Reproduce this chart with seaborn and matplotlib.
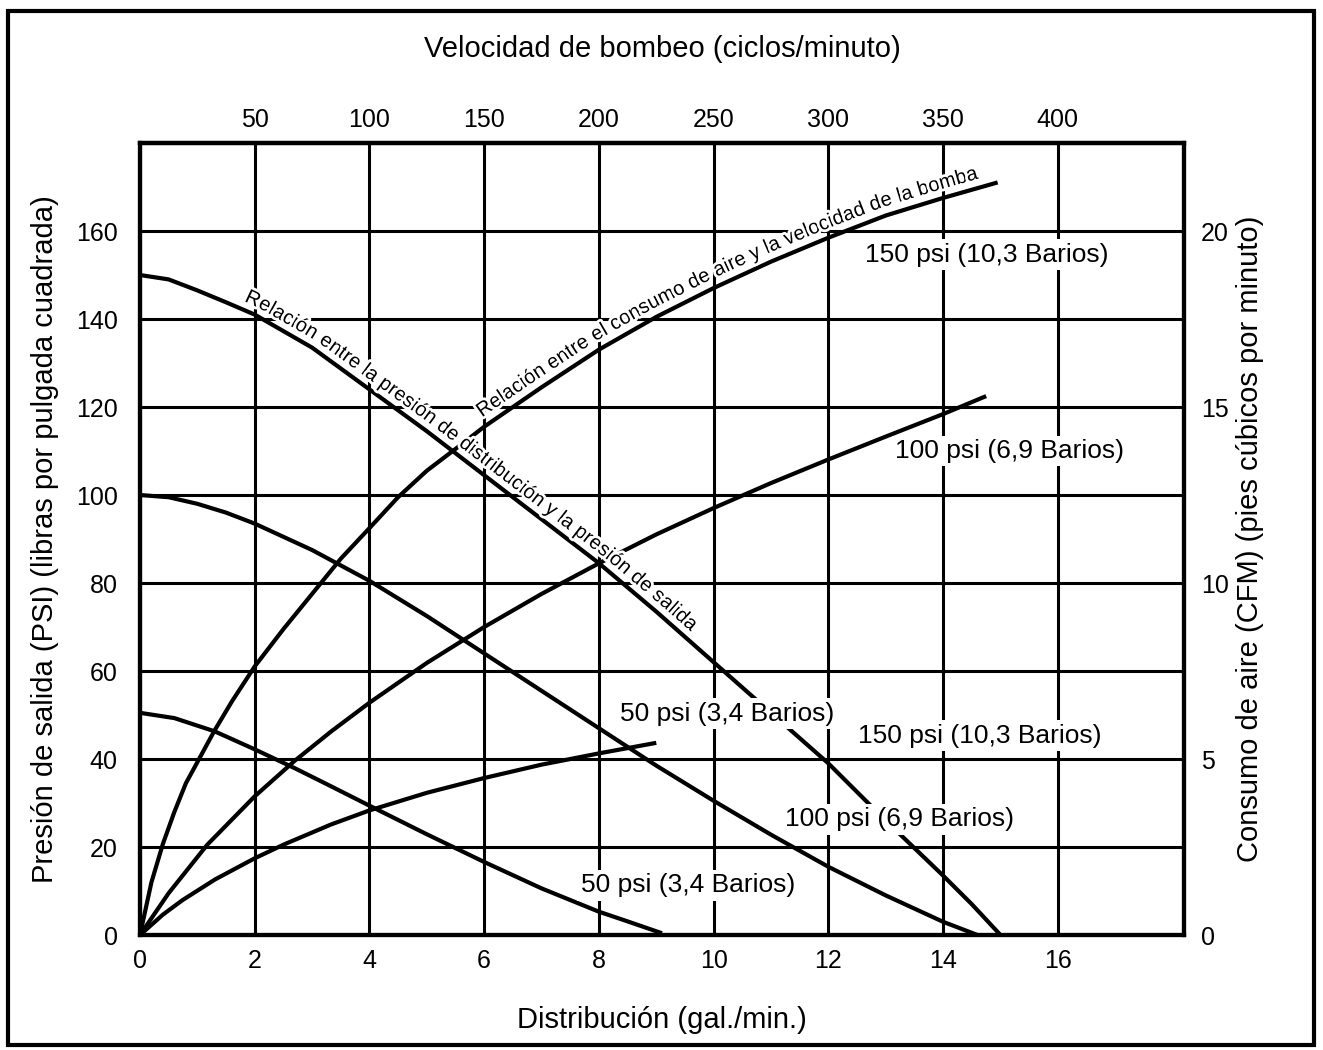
import numpy as np
import pandas as pd
import matplotlib
matplotlib.use("Agg")
import matplotlib.pyplot as plt
import matplotlib.patheffects as pe
from matplotlib.patches import Rectangle
from matplotlib.font_manager import FontProperties
import seaborn as sns

# ---------------- data ----------------
# outlet pressure (psi) vs. flow (gal/min) for three air inlet pressures
flow_p150 = [0, 0.5, 1, 1.5, 2, 3, 4, 5, 6, 7, 8, 9, 10, 11, 12, 13, 14, 14.5, 15.0]
psi_p150 = [150, 149, 146.5, 143.8, 141, 133.5, 124, 114.5, 104.5, 94.5, 84.5, 73.5, 62,
            50.5, 39, 26, 13.5, 7, 0]

flow_p100 = [0, 0.5, 1, 1.5, 2, 3, 4, 5, 6, 7, 8, 9, 10, 11, 12, 13, 14, 14.6]
psi_p100 = [100, 99.5, 98, 96, 93.5, 87.5, 80.5, 72.5, 64, 55.5, 47, 38.5, 30.5, 22.8,
            15.5, 9, 3, 0]

flow_p50 = [0, 0.6, 1.3, 2, 2.7, 3.3, 4, 5, 6, 7, 8, 8.5, 9.1]
psi_p50 = [50.5, 49.3, 46.3, 42.2, 37.9, 34, 29.4, 22.9, 16.6, 10.6, 5.3, 3.1, 0.4]

# air consumption (CFM) vs. flow (gal/min)
flow_a150 = [0, 0.2, 0.4, 0.6, 0.8, 1.05, 1.3, 1.6, 2, 2.5, 3, 3.5, 4, 4.5, 5, 5.5, 6,
             7, 8, 9, 10, 11, 12, 13, 14, 14.95]
cfm_a150 = [0, 1.5, 2.59, 3.5, 4.31, 5.06, 5.81, 6.63, 7.63, 8.69, 9.69, 10.69, 11.56,
            12.44, 13.19, 13.81, 14.44, 15.56, 16.63, 17.56, 18.38, 19.13, 19.81, 20.44,
            20.94, 21.38]

flow_a100 = [0, 0.5, 1.17, 2, 2.69, 3.33, 4, 5, 6, 7, 8, 9, 10, 11, 12, 13, 14, 14.75]
cfm_a100 = [0, 1.19, 2.56, 3.94, 4.94, 5.78, 6.6, 7.73, 8.75, 9.69, 10.56, 11.38, 12.13,
            12.84, 13.51, 14.16, 14.8, 15.31]

flow_a50 = [0, 0.4, 0.74, 1.31, 2, 2.52, 3.33, 4, 5, 6, 7, 8, 9]
cfm_a50 = [0, 0.58, 0.99, 1.58, 2.18, 2.58, 3.14, 3.54, 4.04, 4.46, 4.84, 5.16, 5.46]

flow_ticks = [0, 2, 4, 6, 8, 10, 12, 14, 16]
psi_ticks = [0, 20, 40, 60, 80, 100, 120, 140, 160]
cfm_ticks = [0, 5, 10, 15, 20]
speed_ticks = [50, 100, 150, 200, 250, 300, 350, 400]

label_150 = "150 psi (10,3 Barios)"
label_100 = "100 psi (6,9 Barios)"
label_50 = "50 psi (3,4 Barios)"
txt_pressure = "Relación entre la presión de distribución y la presión de salida"
txt_air = "Relación entre el consumo de aire y la velocidad de la bomba"

# ---------------- style ----------------
sns.set_theme(style="white")
plt.rcParams["font.family"] = ["Liberation Sans", "DejaVu Sans"]
plt.rcParams["axes.edgecolor"] = "black"
plt.rcParams["text.color"] = "black"
plt.rcParams["xtick.color"] = "black"
plt.rcParams["ytick.color"] = "black"
plt.rcParams["axes.labelcolor"] = "black"

fig = plt.figure(figsize=(13.23, 10.5), dpi=100)
ax = fig.add_axes([0.1058, 0.1095, 0.7892, 0.7543])
ax2 = ax.twinx()

LW = 3.0
for xs, ys in [(flow_p150, psi_p150), (flow_p100, psi_p100), (flow_p50, psi_p50)]:
    sns.lineplot(x=xs, y=ys, ax=ax, color="black", lw=LW, estimator=None, sort=False,
                 zorder=3, solid_joinstyle="round", solid_capstyle="butt")
for xs, ys in [(flow_a150, cfm_a150), (flow_a100, cfm_a100), (flow_a50, cfm_a50)]:
    sns.lineplot(x=xs, y=ys, ax=ax2, color="black", lw=LW, estimator=None, sort=False,
                 zorder=3, solid_joinstyle="round", solid_capstyle="butt")

ax.set_xlim(0, 18.2)
ax.set_ylim(0, 180)
ax2.set_ylim(0, 22.5)
ax.set_xticks(flow_ticks)
ax.set_yticks(psi_ticks)
ax2.set_yticks(cfm_ticks)
ax.grid(True, color="black", lw=2.2)
ax2.grid(False)
ax.set_axisbelow(True)
for a in (ax, ax2):
    for sp in a.spines.values():
        sp.set_linewidth(3)
        sp.set_color("black")

TS = 18
ax.tick_params(axis="y", length=0, pad=16, labelsize=TS)
ax.tick_params(axis="x", length=0, pad=10, labelsize=TS)
ax2.tick_params(axis="y", length=0, pad=12, labelsize=TS)

secax = ax.secondary_xaxis("top", functions=(lambda x: x * 25.0, lambda v: v / 25.0))
secax.set_xticks(speed_ticks)
secax.tick_params(length=0, pad=8, labelsize=TS)
secax.spines["top"].set_linewidth(3)

LS = 21
ax.set_xlabel("Distribución (gal./min.)", fontsize=LS)
ax.set_ylabel("Presión de salida (PSI) (libras por pulgada cuadrada)", fontsize=LS)
ax2.set_ylabel("Consumo de aire (CFM) (pies cúbicos por minuto)", fontsize=LS)
secax.set_xlabel("Velocidad de bombeo (ciclos/minuto)", fontsize=LS)

ax.xaxis.set_label_coords(0.5, -0.107, transform=ax.transAxes)
ax.yaxis.set_label_coords(-0.091, 0.5, transform=ax.transAxes)
ax2.yaxis.set_label_coords(1.063, 0.5, transform=ax.transAxes)
secax.xaxis.set_label_coords(0.5, 1.119, transform=ax.transAxes)
for lab in (ax.xaxis.label, ax.yaxis.label, ax2.yaxis.label, secax.xaxis.label):
    lab.set_verticalalignment("center")
    lab.set_horizontalalignment("center")

# ---------------- curve labels with white boxes ----------------
box = dict(facecolor="white", edgecolor="none", pad=2.5)
LF = 19
curve_labels = [
    (label_150, 14.76, 154.6),
    (label_100, 15.16, 110.0),
    (label_50, 10.23, 50.3),
    (label_150, 14.63, 45.3),
    (label_100, 13.24, 26.3),
    (label_50, 9.55, 11.3),
]
for s, x, y in curve_labels:
    ax2.text(x, y, s, transform=ax.transData, ha="center", va="center",
             fontsize=LF, bbox=box, zorder=10)

# ---------------- text following a curve ----------------
def text_along(axis, xs, ys, text, x_start, size, offset):
    fig.canvas.draw()
    r = fig.canvas.get_renderer()
    fp = FontProperties(family=["Liberation Sans", "DejaVu Sans"], size=size)

    def tw(t):
        return r.get_text_width_height_descent(t, fp, ismath=False)[0]

    base = tw("nn")
    adv = [tw("n" + ch + "n") - base for ch in text]
    pts = axis.transData.transform(np.column_stack([xs, ys]))
    seg = np.hypot(np.diff(pts[:, 0]), np.diff(pts[:, 1]))
    s = np.concatenate([[0.0], np.cumsum(seg)])
    s0 = np.interp(x_start, xs, s)

    def pos(sv):
        return np.array([np.interp(sv, s, pts[:, 0]), np.interp(sv, s, pts[:, 1])])

    inv = axis.transData.inverted()
    cur = s0
    for ch, w in zip(text, adv):
        sc = cur + w / 2.0
        cur += w
        if ch == " ":
            continue
        p = pos(sc)
        d = pos(sc + 18) - pos(sc - 18)
        d = d / np.hypot(*d)
        nrm = np.array([-d[1], d[0]])
        q = p + nrm * offset
        ang = np.degrees(np.arctan2(d[1], d[0]))
        xq, yq = inv.transform(q)
        ax2.text(xq, yq, ch, transform=axis.transData, fontproperties=fp,
                 rotation=ang, rotation_mode="anchor", ha="center", va="baseline",
                 zorder=8, path_effects=[pe.withStroke(linewidth=4, foreground="white")])

text_along(ax, flow_p150, psi_p150, txt_pressure, 1.75, 14.5, 8)
text_along(ax2, flow_a150, cfm_a150, txt_air, 6.05, 14.5, 9)

# outer frame
fig.patches.append(Rectangle((0.006, 0.005), 0.987, 0.985, transform=fig.transFigure,
                             fill=False, lw=3, ec="black"))

fig.savefig("out.png", dpi=100, facecolor="white")
